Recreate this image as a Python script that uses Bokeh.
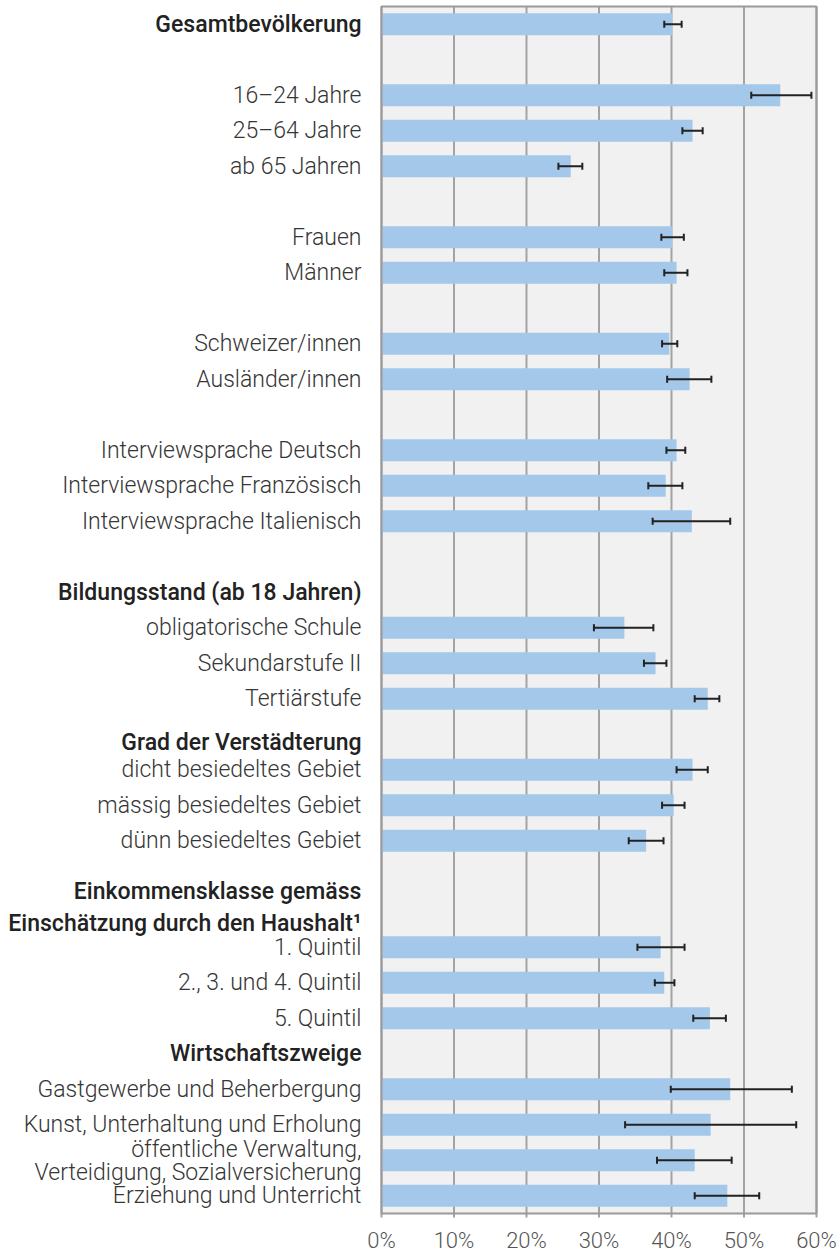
import numpy as np
from bokeh.plotting import figure
from bokeh.models import ColumnDataSource, Range1d
from bokeh.core.properties import value
from bokeh.embed import file_html
from bokeh.resources import INLINE

categories = [
    "Gesamtbevölkerung", "",
    "16–24 Jahre", "25–64 Jahre", "ab 65 Jahren", "",
    "Frauen", "Männer", "",
    "Schweizer/innen", "Ausländer/innen", "",
    "Interviewsprache Deutsch", "Interviewsprache Französisch", "Interviewsprache Italienisch", "",
    "Bildungsstand (ab 18 Jahren)", "obligatorische Schule", "Sekundarstufe II", "Tertiärstufe",
    "Grad der Verstädterung", "dicht besiedeltes Gebiet", "mässig besiedeltes Gebiet", "dünn besiedeltes Gebiet", "",
    "Einkommensklasse gemäss\nEinschätzung durch den Haushalt¹", "1. Quintil", "2., 3. und 4. Quintil", "5. Quintil",
    "Wirtschaftszweige", "Gastgewerbe und Beherbergung", "Kunst, Unterhaltung und Erholung",
    "öffentliche Verwaltung,\nVerteidigung, Sozialversicherung", "Erziehung und Unterricht",
]
headers = [
    "Gesamtbevölkerung", "Bildungsstand (ab 18 Jahren)", "Grad der Verstädterung",
    "Einkommensklasse gemäss\nEinschätzung durch den Haushalt¹", "Wirtschaftszweige",
]
share = [40.1, None, 55.0, 42.9, 26.1, None, 40.1, 40.7, None, 39.7, 42.5, None,
         40.7, 39.2, 42.8, None, None, 33.5, 37.8, 45.0, None, 42.9, 40.3, 36.5, None,
         None, 38.5, 39.0, 45.3, None, 48.1, 45.4, 43.2, 47.7]
ci_low = [39.0, None, 51.0, 41.5, 24.4, None, 38.6, 39.0, None, 38.7, 39.4, None,
          39.3, 36.8, 37.4, None, None, 29.3, 36.2, 43.2, None, 40.7, 38.7, 34.1, None,
          None, 35.3, 37.7, 43.0, None, 39.9, 33.6, 38.0, 43.2]
ci_high = [41.4, None, 59.3, 44.3, 27.7, None, 41.7, 42.2, None, 40.8, 45.5, None,
           41.9, 41.5, 48.1, None, None, 37.5, 39.3, 46.6, None, 45.0, 41.8, 38.9, None,
           None, 41.8, 40.4, 47.5, None, 56.6, 57.2, 48.3, 52.1]
x_ticks = [0, 10, 20, 30, 40, 50, 60]
x_tick_labels = ["0%", "10%", "20%", "30%", "40%", "50%", "60%"]

n = len(categories)
LIGHT = value("Roboto Light")
MEDIUM = value("Roboto Medium")

# layout in pixels (frame covers the whole canvas)
W, H = 838, 1252
PLOT_LEFT, PLOT_RIGHT = 381, 816
PLOT_TOP, PLOT_BOTTOM = 6, 1213
px_per_x = (PLOT_RIGHT - PLOT_LEFT) / (x_ticks[-1] - x_ticks[0])
pitch = (PLOT_BOTTOM - PLOT_TOP) / n
x_start = x_ticks[0] - PLOT_LEFT / px_per_x
x_end = x_ticks[-1] + (W - PLOT_RIGHT) / px_per_x
y_top = -0.5 - PLOT_TOP / pitch
y_bottom = n - 0.5 + (H - PLOT_BOTTOM) / pitch

p = figure(width=W, height=H, output_backend="svg", toolbar_location=None,
           x_range=Range1d(x_start, x_end), y_range=Range1d(y_bottom, y_top),
           x_axis_location=None, y_axis_location=None,
           min_border=0)
p.background_fill_color = "white"
p.border_fill_color = "white"
p.outline_line_color = None
p.grid.visible = False

y0, y1 = -0.5, n - 0.5
# gray panel
p.quad(left=x_ticks[0], right=x_ticks[-1], top=y0, bottom=y1,
       fill_color="#f0f1f0", line_color=None)

# vertical grid lines + tick marks below the panel
tick_len = 4 / pitch
p.segment(x0=x_ticks, x1=x_ticks, y0=[y0] * len(x_ticks), y1=[y1 + tick_len] * len(x_ticks),
          line_color="#a3a3a3", line_width=2)

idx = [i for i, v in enumerate(share) if v is not None]
bars = ColumnDataSource(dict(
    y=idx,
    v=[share[i] for i in idx],
    lo=[ci_low[i] for i in idx],
    hi=[ci_high[i] for i in idx],
    ya=[i - 0.1 for i in idx],
    yb=[i + 0.1 for i in idx],
))
p.hbar(y="y", right="v", left=0, height=0.62, source=bars, fill_color="#a4c8ea", line_color=None)

# panel border on top of bars
p.quad(left=x_ticks[0], right=x_ticks[-1], top=y0, bottom=y1,
       fill_color=None, line_color="#9a9a9a", line_width=2)

p.segment(x0="lo", x1="hi", y0="y", y1="y", source=bars, line_color="#222222", line_width=2)
p.segment(x0="lo", x1="lo", y0="ya", y1="yb", source=bars, line_color="#222222", line_width=2)
p.segment(x0="hi", x1="hi", y0="ya", y1="yb", source=bars, line_color="#222222", line_width=2)

# x tick labels
p.text(x=x_ticks, y=[y1] * len(x_ticks), text=x_tick_labels, y_offset=27,
       text_align="center", text_baseline="middle", text_font=LIGHT,
       text_font_size="22px", text_color="#555555")

normal = [(i, c) for i, c in enumerate(categories) if c and c not in headers and "\n" not in c]
multi = [(i, c) for i, c in enumerate(categories) if c and c not in headers and "\n" in c]
hdr = [(i, c) for i, c in enumerate(categories) if c in headers]

def labels(items, font, color, size, line_height=1.2, y_off=0):
    src = ColumnDataSource(dict(y=[i for i, _ in items], t=[c for _, c in items],
                                x=[x_ticks[0]] * len(items)))
    p.text(x="x", y="y", text="t", source=src, x_offset=-20, y_offset=y_off,
           text_align="right", text_baseline="middle", text_font=font,
           text_font_size=size, text_color=color, text_line_height=line_height)

labels(normal, LIGHT, "#363636", "23px")
labels(multi, LIGHT, "#363636", "23px", line_height=0.84, y_off=1)
header_shift = {"Grad der Verstädterung": 8}
labels([h for h in hdr if h[1] not in header_shift and "\n" not in h[1]], MEDIUM, "#222222", "23px")
labels([h for h in hdr if "\n" in h[1]], MEDIUM, "#222222", "23px", line_height=1.17, y_off=-4)
for i, c in hdr:
    if c in header_shift:
        labels([(i, c)], MEDIUM, "#222222", "23px", y_off=header_shift[c])

open("out.html", "w").write(file_html(p, INLINE))
